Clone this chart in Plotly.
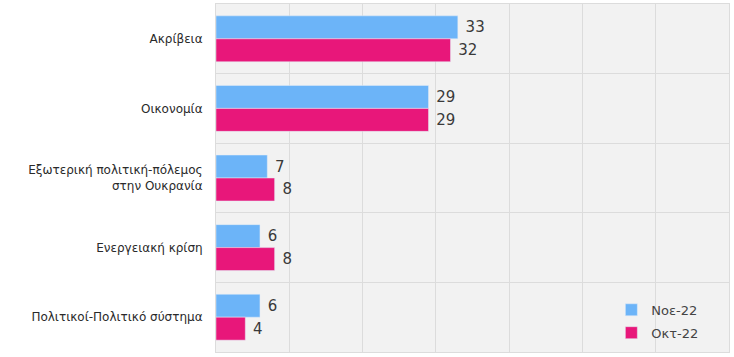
import plotly.graph_objects as go

categories = ["Ακρίβεια", "Οικονομία", "Εξωτερική πολιτική-πόλεμος<br>στην Ουκρανία",
              "Ενεργειακή κρίση", "Πολιτικοί-Πολιτικό σύστημα"]
noe_22 = [33, 29, 7, 6, 6]
okt_22 = [32, 29, 8, 8, 4]
series_names = ["Νοε-22", "Οκτ-22"]
colors = ["#6cb4f8", "#e8177a"]

fig = go.Figure()
for name, vals, col in zip(series_names, [noe_22, okt_22], colors):
    fig.add_trace(go.Bar(y=categories, x=vals, name=name, orientation="h",
                         legendgroup=name,
                         marker=dict(color=col), text=vals, textposition="outside",
                         texttemplate=" %{x}", cliponaxis=False,
                         textfont=dict(size=15, color="#3a3a3a", family="DejaVu Sans")))

fig.update_layout(
    width=734, height=357,
    margin=dict(l=216, r=5, t=4, b=5),
    barmode="group", bargap=0.34, bargroupgap=0,
    plot_bgcolor="#f2f2f2", paper_bgcolor="white",
    font=dict(family="DejaVu Sans", size=12, color="#333333"),
    xaxis=dict(range=[0, 70], dtick=10, showticklabels=False, showgrid=True,
               gridcolor="#dcdcdc", gridwidth=1, zeroline=False, automargin=False,
               showline=True, linecolor="#dcdcdc", mirror=True),
    yaxis=dict(autorange="reversed", type="category", tickson="boundaries",
               showgrid=True, gridcolor="#dcdcdc", ticks="", ticklen=0,
               automargin=False, ticklabelstandoff=10,
               showline=True, linecolor="#dcdcdc", mirror=True,
               tickfont=dict(size=12, color="#2a2a2a")),
    legend=dict(x=0.95, xanchor="right", y=0.012, yanchor="bottom",
                bgcolor="rgba(0,0,0,0)", font=dict(size=13, color="#444444"),
                itemwidth=30, tracegroupgap=3),
    showlegend=True,
)

fig.write_html("out.html", config={"displayModeBar": False},
               post_script="document.body.style.margin='0';document.body.style.overflow='hidden';")
